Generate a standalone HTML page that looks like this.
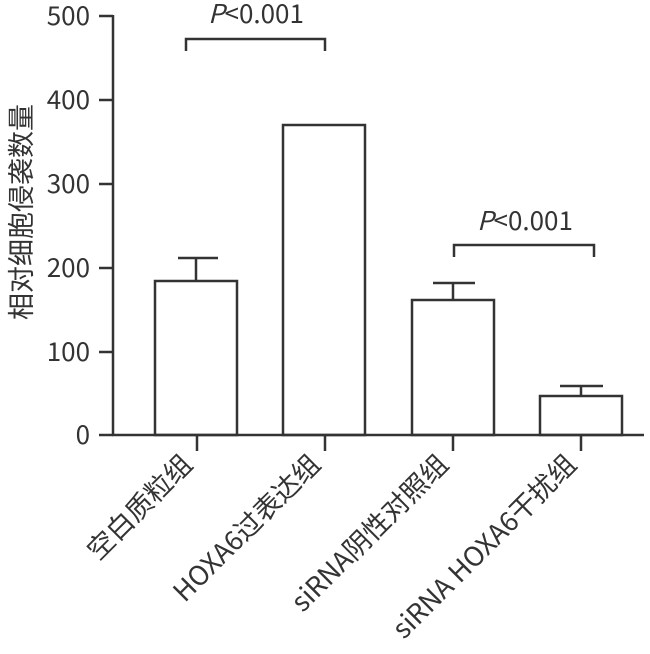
<!DOCTYPE html>
<html><head><meta charset="utf-8"><style>
html,body{margin:0;padding:0;background:#fff;}
svg text{font-family:"Noto Sans CJK SC","Liberation Sans",sans-serif;fill:#333;}
</style></head><body>
<svg width="650" height="649" viewBox="0 0 650 649" xmlns="http://www.w3.org/2000/svg">
<g stroke="#333" stroke-width="2.5" fill="none">
<line x1="113" y1="15" x2="113" y2="436"/>
<line x1="112" y1="435" x2="644" y2="435"/>
<line x1="99" y1="16" x2="113" y2="16"/>
<line x1="99" y1="100" x2="113" y2="100"/>
<line x1="99" y1="184" x2="113" y2="184"/>
<line x1="99" y1="268" x2="113" y2="268"/>
<line x1="99" y1="352" x2="113" y2="352"/>
<line x1="99" y1="435" x2="113" y2="435"/>
<line x1="197" y1="435" x2="197" y2="451"/>
<line x1="325" y1="435" x2="325" y2="451"/>
<line x1="453" y1="435" x2="453" y2="451"/>
<line x1="581" y1="435" x2="581" y2="451"/>
<rect x="155" y="281" width="82" height="154"/>
<line x1="196" y1="281" x2="196" y2="258"/><line x1="178" y1="258" x2="218" y2="258"/>
<rect x="283" y="125" width="82" height="310"/>
<rect x="412" y="300" width="82" height="135"/>
<line x1="453" y1="300" x2="453" y2="283"/><line x1="433" y1="283" x2="475" y2="283"/>
<rect x="540" y="396" width="82" height="39"/>
<line x1="581" y1="396" x2="581" y2="386"/><line x1="560" y1="386" x2="603" y2="386"/>
<polyline points="186,51 186,39 325,39 325,51"/>
<polyline points="454,257 454,245 594,245 594,257"/>
</g>
<g font-size="26" text-anchor="end">
<text x="90" y="25">500</text>
<text x="90" y="109">400</text>
<text x="90" y="193">300</text>
<text x="90" y="277">200</text>
<text x="90" y="361">100</text>
<text x="90" y="444">0</text>
</g>
<text x="256" y="23" font-size="26" text-anchor="middle"><tspan font-style="italic">P</tspan>&lt;0.001</text>
<text x="525" y="230" font-size="26" text-anchor="middle"><tspan font-style="italic">P</tspan>&lt;0.001</text>
<text transform="translate(31,212) rotate(-90)" font-size="27" text-anchor="middle">相对细胞侵袭数量</text>
<g font-size="27" text-anchor="end">
<text transform="translate(194,466) rotate(-45)">空白质粒组</text>
<text transform="translate(322,466) rotate(-45)">HOXA6过表达组</text>
<text transform="translate(450,466) rotate(-45)">siRNA阴性对照组</text>
<text transform="translate(578,466) rotate(-45)">siRNA HOXA6干扰组</text>
</g>
</svg>
</body></html>
